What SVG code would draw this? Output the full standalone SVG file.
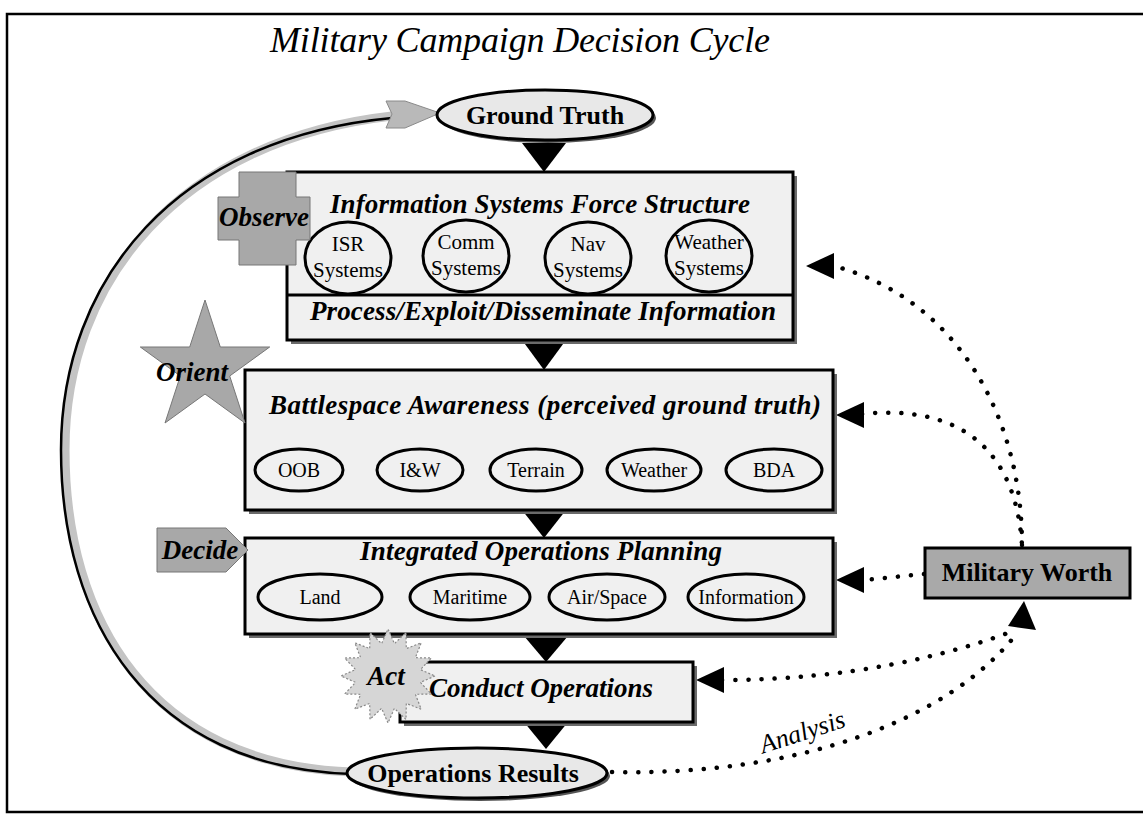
<svg xmlns="http://www.w3.org/2000/svg" width="1143" height="819" viewBox="0 0 1143 819">
  <style>
    .frame { fill: #ffffff; stroke: #000; stroke-width: 2.5; }
    .title { font-family: "Liberation Serif", serif; font-style: italic; font-size: 36px; fill: #000; }
    .box { fill: #f0f0f0; stroke: #000; stroke-width: 3; }
    .shadow { fill: #6a6a6a; }
    .head { font-family: "Liberation Serif", serif; font-style: italic; font-weight: bold; font-size: 27px; fill: #000; text-anchor: middle; }
    .oval { fill: none; stroke: #000; stroke-width: 3; }
    .lbl { font-family: "Liberation Serif", serif; font-size: 20px; fill: #000; text-anchor: middle; }
    .lbl2 { font-family: "Liberation Serif", serif; font-size: 21px; fill: #000; text-anchor: middle; }
    .term { fill: #e8e8e8; stroke: #000; stroke-width: 3; }
    .termtxt { font-family: "Liberation Serif", serif; font-weight: bold; font-size: 26px; fill: #000; text-anchor: middle; }
    .badge { fill: #a8a8a8; stroke: #777; stroke-width: 1; }
    .badgetxt { font-family: "Liberation Serif", serif; font-style: italic; font-weight: bold; font-size: 27px; fill: #000; text-anchor: middle; }
    .flow { fill: #000; }
    .dots { fill: none; stroke: #000; stroke-width: 4.5; stroke-linecap: round; stroke-dasharray: 0.1 13; }
    .head-dot { fill: #000; }
  </style>

  <!-- outer frame -->
  <rect class="frame" x="7" y="14" width="1150" height="798"/>

  <text id="title" class="title" x="270" y="52" textLength="500">Military Campaign Decision Cycle</text>

  <!-- feedback loop from results back to ground truth -->
  <g id="loop">
    <path d="M352,772 C150,765 65,620 65,450 C65,280 180,140 392,116" fill="none" stroke="#c4c4c4" stroke-width="9"/>
    <path d="M352,774 C148,768 61,620 61,450 C61,280 176,138 392,118" fill="none" stroke="#000" stroke-width="2.5"/>
    <polygon points="386,101 405,101 440,113 405,128 386,128 392,114" fill="#b9b9b9" stroke="#8a8a8a" stroke-width="1"/>
  </g>

  <!-- flow triangles between stages -->
  <g id="flow-arrows">
    <polygon class="flow" points="522,143 566,143 544,172"/>
    <polygon class="flow" points="522,340 566,340 544,370"/>
    <polygon class="flow" points="522,510 566,510 544,538"/>
    <polygon class="flow" points="524,636 568,636 546,662"/>
    <polygon class="flow" points="524,722 568,722 546,749"/>
  </g>

  <!-- dotted feedback connectors from Military Worth -->
  <g id="connectors">
    <path class="dots" d="M1022,545 C1022,420 960,300 834,266"/>
    <path class="dots" d="M862,414 C950,405 1015,440 1022,545"/>
    <path class="dots" d="M924,574 L864,580"/>
    <path class="dots" d="M722,680 C850,680 950,655 1016,630"/>
    <path class="dots" d="M612,772 C800,776 950,720 1018,632"/>
    <polygon class="head-dot" points="806,266 834,253 834,279"/>
    <polygon class="head-dot" points="836,415 864,402 864,428"/>
    <polygon class="head-dot" points="836,580 864,567 864,593"/>
    <polygon class="head-dot" points="696,680 724,667 724,693"/>
    <polygon class="head-dot" points="1024,601 1036,630 1008,626"/>
    <text x="805" y="740" transform="rotate(-18 805 740)" font-family="Liberation Serif, serif" font-style="italic" font-size="26" fill="#000" text-anchor="middle">Analysis</text>
  </g>

  <g id="ground-truth">
    <ellipse cx="548" cy="118" rx="108" ry="25" fill="#555"/>
    <ellipse class="term" cx="545" cy="115" rx="108" ry="25"/>
    <text class="termtxt" x="545" y="124">Ground Truth</text>
  </g>

  <g id="observe-stage">
    <rect class="shadow" x="291" y="176" width="506" height="168"/>
    <rect class="box" x="287" y="172" width="506" height="168"/>
    <line x1="287" y1="295" x2="793" y2="295" stroke="#000" stroke-width="3"/>
    <text class="head" x="540" y="213" textLength="420">Information Systems Force Structure</text>
    <ellipse class="oval" cx="348" cy="258" rx="43" ry="36"/>
    <text class="lbl2" x="348" y="251">ISR</text>
    <text class="lbl2" x="348" y="277">Systems</text>
    <ellipse class="oval" cx="466" cy="256" rx="43" ry="36"/>
    <text class="lbl2" x="466" y="249">Comm</text>
    <text class="lbl2" x="466" y="275">Systems</text>
    <ellipse class="oval" cx="588" cy="258" rx="43" ry="36"/>
    <text class="lbl2" x="588" y="251">Nav</text>
    <text class="lbl2" x="588" y="277">Systems</text>
    <ellipse class="oval" cx="709" cy="256" rx="43" ry="36"/>
    <text class="lbl2" x="709" y="249">Weather</text>
    <text class="lbl2" x="709" y="275">Systems</text>
    <text class="head" x="543" y="320" textLength="466">Process/Exploit/Disseminate Information</text>
  </g>

  <g id="observe-badge">
    <path class="badge" d="M239,172 H296 V197 H310 V240 H296 V265 H239 V240 H218 V197 H239 Z"/>
    <text class="badgetxt" x="264" y="226" textLength="90">Observe</text>
  </g>

  <g id="orient-stage">
    <rect class="shadow" x="249" y="374" width="588" height="140"/>
    <rect class="box" x="245" y="370" width="588" height="140"/>
    <text class="head" x="545" y="414" textLength="552">Battlespace Awareness (perceived ground truth)</text>
    <ellipse class="oval" cx="299" cy="470" rx="44" ry="21"/>
    <text class="lbl" x="299" y="477">OOB</text>
    <ellipse class="oval" cx="420" cy="470" rx="43" ry="21"/>
    <text class="lbl" x="420" y="477">I&amp;W</text>
    <ellipse class="oval" cx="536" cy="470" rx="46" ry="21"/>
    <text class="lbl" x="536" y="477">Terrain</text>
    <ellipse class="oval" cx="654" cy="470" rx="47" ry="21"/>
    <text class="lbl" x="654" y="477">Weather</text>
    <ellipse class="oval" cx="774" cy="470" rx="48" ry="21"/>
    <text class="lbl" x="774" y="477">BDA</text>
  </g>

  <g id="orient-badge">
    <polygon class="badge" points="205,300 220.3,347 269.7,347 229.7,376 245,423 205,394 165,423 180.3,376 140.3,347 189.7,347"/>
    <text class="badgetxt" x="192" y="381">Orient</text>
  </g>

  <g id="decide-stage">
    <rect class="shadow" x="249" y="542" width="588" height="96"/>
    <rect class="box" x="245" y="538" width="588" height="96"/>
    <text class="head" x="541" y="560" textLength="362">Integrated Operations Planning</text>
    <ellipse class="oval" cx="320" cy="597" rx="62" ry="23"/>
    <text class="lbl" x="320" y="604">Land</text>
    <ellipse class="oval" cx="470" cy="597" rx="60" ry="23"/>
    <text class="lbl" x="470" y="604">Maritime</text>
    <ellipse class="oval" cx="607" cy="597" rx="58" ry="23"/>
    <text class="lbl" x="607" y="604">Air/Space</text>
    <ellipse class="oval" cx="746" cy="597" rx="58" ry="23"/>
    <text class="lbl" x="746" y="604">Information</text>
  </g>

  <g id="decide-badge">
    <polygon class="badge" points="157,528 226,528 248,550 226,572 157,572"/>
    <text class="badgetxt" x="200" y="559">Decide</text>
  </g>

  <g id="act-stage">
    <rect class="shadow" x="404" y="666" width="293" height="60"/>
    <rect class="box" x="400" y="662" width="293" height="60"/>
    <text class="head" x="541" y="697" textLength="224">Conduct Operations</text>
  </g>

  <g id="act-badge">
    <polygon points="435,676 420.4,682.4 431.4,694 415.4,694.3 421.2,709.2 406.3,703.4 406,719.4 394.4,708.4 388,723 381.6,708.4 370,719.4 369.7,703.4 354.8,709.2 360.6,694.3 344.6,694 355.6,682.4 341,676 355.6,669.6 344.6,658 360.6,657.7 354.8,642.8 369.7,648.6 370,632.6 381.6,643.6 388,629 394.4,643.6 406,632.6 406.3,648.6 421.2,642.8 415.4,657.7 431.4,658 420.4,669.6" fill="#d6d6d6" stroke="#888" stroke-width="1.2" stroke-dasharray="2 2"/>
    <text class="badgetxt" x="386" y="685">Act</text>
  </g>

  <g id="operations-results">
    <ellipse cx="480" cy="776" rx="130" ry="25" fill="#555"/>
    <ellipse class="term" cx="477" cy="773" rx="130" ry="25"/>
    <text class="termtxt" x="473" y="782">Operations Results</text>
  </g>

  <g id="military-worth">
    <rect x="925" y="548" width="205" height="50" fill="#a9a9a9" stroke="#000" stroke-width="3"/>
    <text x="1027" y="581" font-family="Liberation Serif, serif" font-weight="bold" font-size="26" fill="#000" text-anchor="middle">Military Worth</text>
  </g>
</svg>
